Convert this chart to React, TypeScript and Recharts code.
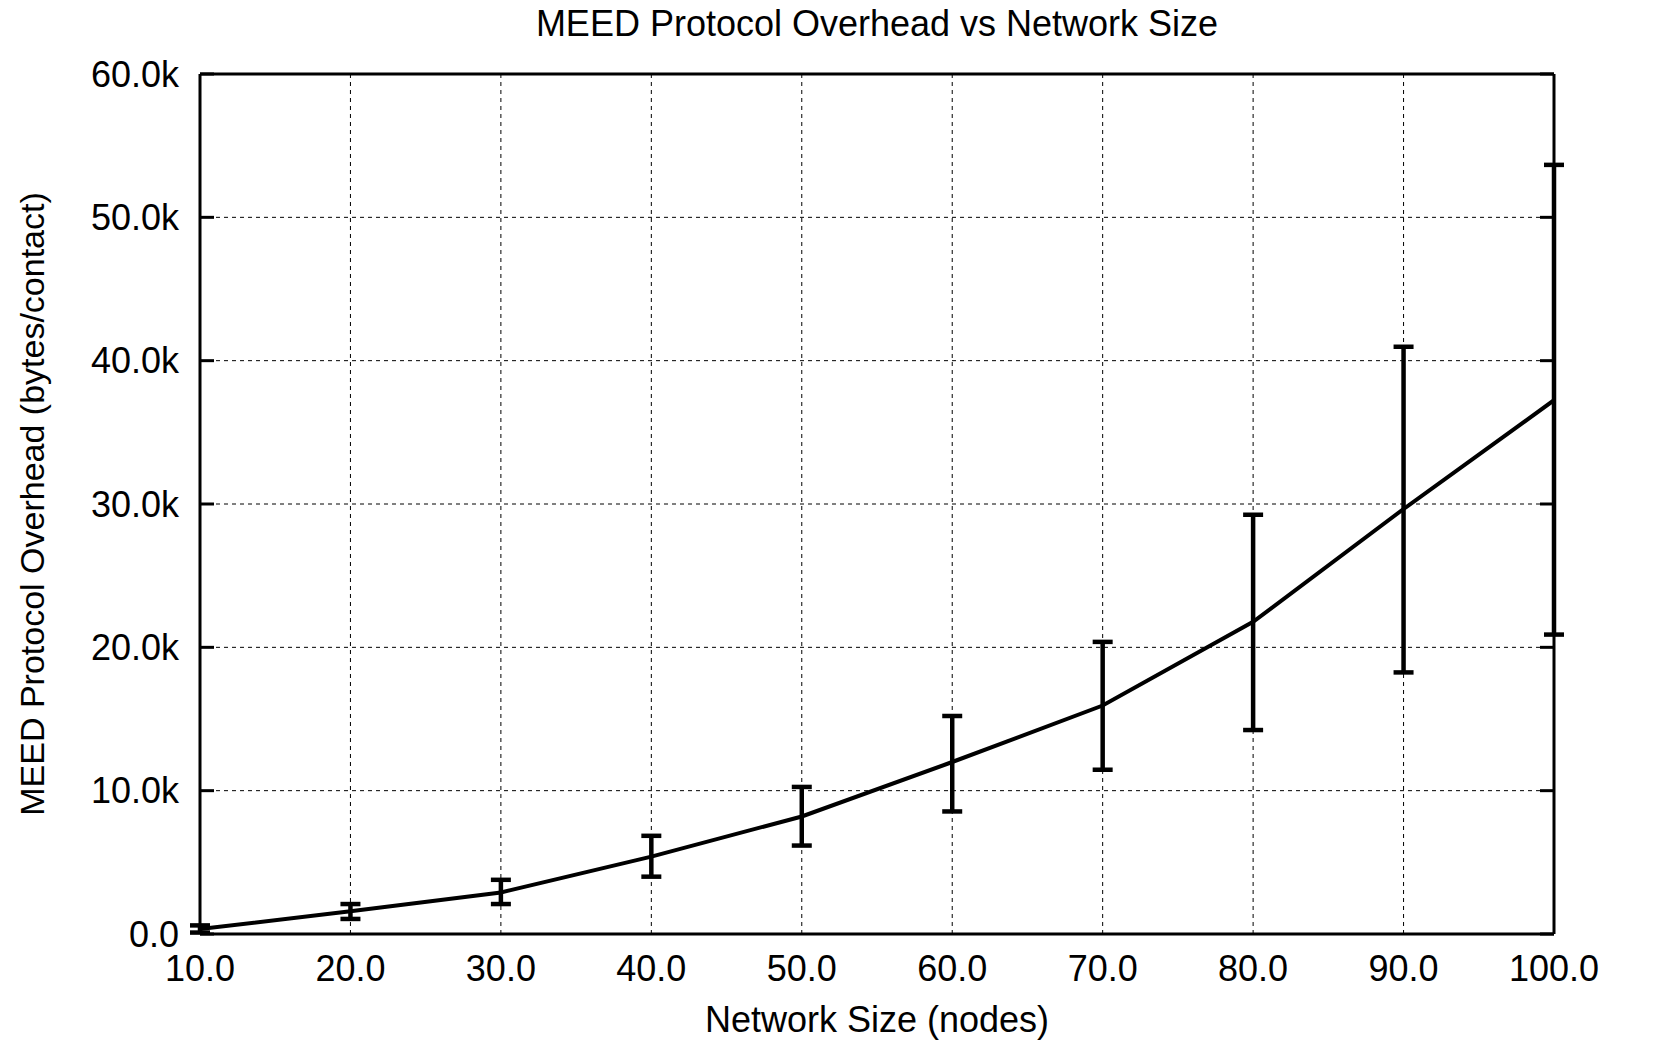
import React from 'react';
import { ComposedChart, Line, XAxis, YAxis, CartesianGrid, ErrorBar, Label } from 'recharts';

const nodes = [10, 20, 30, 40, 50, 60, 70, 80, 90, 100];
const overheadMean = [350, 1580, 2900, 5400, 8200, 12000, 15940, 21780, 29650, 37240];
const overheadLow = [100, 1050, 2090, 4000, 6170, 8550, 11460, 14230, 18250, 20890];
const overheadHigh = [600, 2090, 3780, 6850, 10260, 15210, 20380, 29250, 40970, 53660];
const xTicks = [10, 20, 30, 40, 50, 60, 70, 80, 90, 100];
const yTicks = [0, 10000, 20000, 30000, 40000, 50000, 60000];

const data = nodes.map((n, i) => ({
  n,
  v: overheadMean[i],
  err: [overheadMean[i] - overheadLow[i], overheadHigh[i] - overheadMean[i]],
}));

const FONT = '"Liberation Sans", Arial, Helvetica, sans-serif';
const emptyTick = () => <g />;
const innerTickLine = { stroke: '#000', strokeWidth: 3 };

export default function App() {
  return (
    <div style={{ position: 'relative', width: 1662, height: 1040, background: '#fff', fontFamily: FONT }}>
      <style>{'body{margin:0}'}</style>
      <div
        style={{
          position: 'absolute',
          left: 200,
          width: 1354,
          top: 5,
          fontSize: 36,
          lineHeight: '37px',
          textAlign: 'center',
          color: '#000',
          fontFamily: FONT,
        }}
      >
        MEED Protocol Overhead vs Network Size
      </div>
      <ComposedChart
        width={1662}
        height={1040}
        data={data}
        margin={{ top: 74, right: 108, bottom: 0, left: 30 }}
        style={{ fontFamily: FONT }}
      >
        <CartesianGrid stroke="#000" strokeWidth={1} strokeDasharray="4 4" />
        <XAxis
          dataKey="n"
          type="number"
          domain={[10, 100]}
          ticks={xTicks}
          tickFormatter={(v: number) => v.toFixed(1)}
          height={106}
          tickSize={0}
          tickMargin={21}
          tickLine={false}
          axisLine={{ stroke: '#000', strokeWidth: 3 }}
          tick={{ fill: '#000', fontSize: 36, fontFamily: FONT }}
          interval={0}
          allowDataOverflow
        >
          <Label
            value="Network Size (nodes)"
            position="insideBottom"
            offset={8}
            style={{ fill: '#000', fontSize: 36, fontFamily: FONT }}
          />
        </XAxis>
        <YAxis
          type="number"
          domain={[0, 60000]}
          ticks={yTicks}
          tickFormatter={(v: number) => (v / 1000).toFixed(1) + (v === 0 ? '' : 'k')}
          width={170}
          tickSize={0}
          tickMargin={21}
          tickLine={false}
          axisLine={{ stroke: '#000', strokeWidth: 3 }}
          tick={{ fill: '#000', fontSize: 36, fontFamily: FONT }}
          interval={0}
          allowDataOverflow
        >
          <Label
            value="MEED Protocol Overhead (bytes/contact)"
            angle={-90}
            position="insideLeft"
            offset={2}
            style={{ fill: '#000', fontSize: 34, fontFamily: FONT, textAnchor: 'middle' }}
          />
        </YAxis>
        <XAxis
          xAxisId="xb"
          type="number"
          domain={[10, 100]}
          ticks={xTicks}
          orientation="bottom"
          mirror
          tickSize={14}
          tickLine={innerTickLine}
          axisLine={false}
          tick={emptyTick}
          interval={0}
          allowDataOverflow
        />
        <XAxis
          xAxisId="xt"
          type="number"
          domain={[10, 100]}
          ticks={xTicks}
          orientation="top"
          mirror
          tickSize={14}
          tickLine={innerTickLine}
          axisLine={{ stroke: '#000', strokeWidth: 3 }}
          tick={emptyTick}
          interval={0}
          allowDataOverflow
        />
        <YAxis
          yAxisId="yl"
          type="number"
          domain={[0, 60000]}
          ticks={yTicks}
          orientation="left"
          mirror
          tickSize={14}
          tickLine={innerTickLine}
          axisLine={false}
          tick={emptyTick}
          interval={0}
          allowDataOverflow
        />
        <YAxis
          yAxisId="yr"
          type="number"
          domain={[0, 60000]}
          ticks={yTicks}
          orientation="right"
          mirror
          tickSize={14}
          tickLine={innerTickLine}
          axisLine={{ stroke: '#000', strokeWidth: 3 }}
          tick={emptyTick}
          interval={0}
          allowDataOverflow
        />
        <Line
          dataKey="v"
          type="linear"
          stroke="#000"
          strokeWidth={4}
          dot={false}
          activeDot={false}
          isAnimationActive={false}
        >
          <ErrorBar dataKey="err" direction="y" stroke="#000" strokeWidth={4.5} width={10} isAnimationActive={false} />
        </Line>
      </ComposedChart>
    </div>
  );
}
